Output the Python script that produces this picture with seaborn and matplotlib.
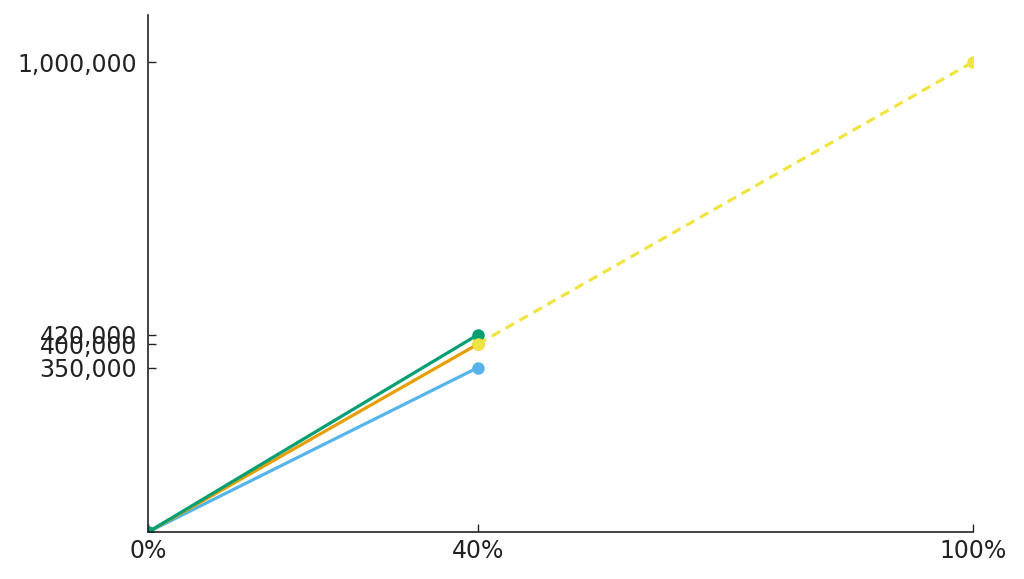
import seaborn as sns
import numpy as np
import pandas as pd
import matplotlib
matplotlib.use('Agg')
from matplotlib import pyplot as plt
from matplotlib.ticker import FuncFormatter

sns.set_theme(style="ticks")

# data
progress = [0, 40]            # percent complete
plan_a = [0, 350000]          # blue
plan_b = [0, 400000]          # orange
plan_c = [0, 420000]          # green
projection_x = [40, 100]
projection = [400000, 1000000]  # yellow dashed

y_ticks = [350000, 400000, 420000, 1000000]
x_ticks = [0, 40, 100]

series_names = ["A", "B", "C", "Projection"]
colors = ["#56B4E9", "#E69F00", "#009E73", "#F0E442"]

df = pd.concat([
    pd.DataFrame({"x": progress, "y": plan_a, "series": "A"}),
    pd.DataFrame({"x": progress, "y": plan_b, "series": "B"}),
    pd.DataFrame({"x": progress, "y": plan_c, "series": "C"}),
    pd.DataFrame({"x": projection_x, "y": projection, "series": "Projection"}),
])

fig, ax = plt.subplots(figsize=(10.24, 5.79), dpi=100)
sns.lineplot(data=df, x="x", y="y", hue="series", hue_order=series_names,
             palette=colors, style="series", style_order=series_names,
             dashes={"A": "", "B": "", "C": "", "Projection": (3, 2)},
             markers={"A": "o", "B": "o", "C": "o", "Projection": "o"},
             markersize=9, markeredgewidth=0, linewidth=2.3,
             legend=False, ax=ax)

ax.set_xlim(0, 100)
ax.set_ylim(0, 1100000)
ax.set_xticks(x_ticks)
ax.set_yticks(y_ticks)
ax.xaxis.set_major_formatter(FuncFormatter(lambda v, p: f"{v:.0f}%"))
ax.yaxis.set_major_formatter(FuncFormatter(lambda v, p: f"{v:,.0f}"))
ax.tick_params(labelsize=17, length=6, width=1, colors="#222222", direction="in")
ax.tick_params(axis="y", pad=8)
ax.tick_params(axis="x", pad=5)
for s in ["left", "bottom"]:
    ax.spines[s].set_color("#222222")
    ax.spines[s].set_linewidth(1.2)
ax.set(xlabel="", ylabel="")
sns.despine()

plt.subplots_adjust(left=0.1445, right=0.950, top=0.974, bottom=0.081)
plt.savefig("out.png", dpi=100)
